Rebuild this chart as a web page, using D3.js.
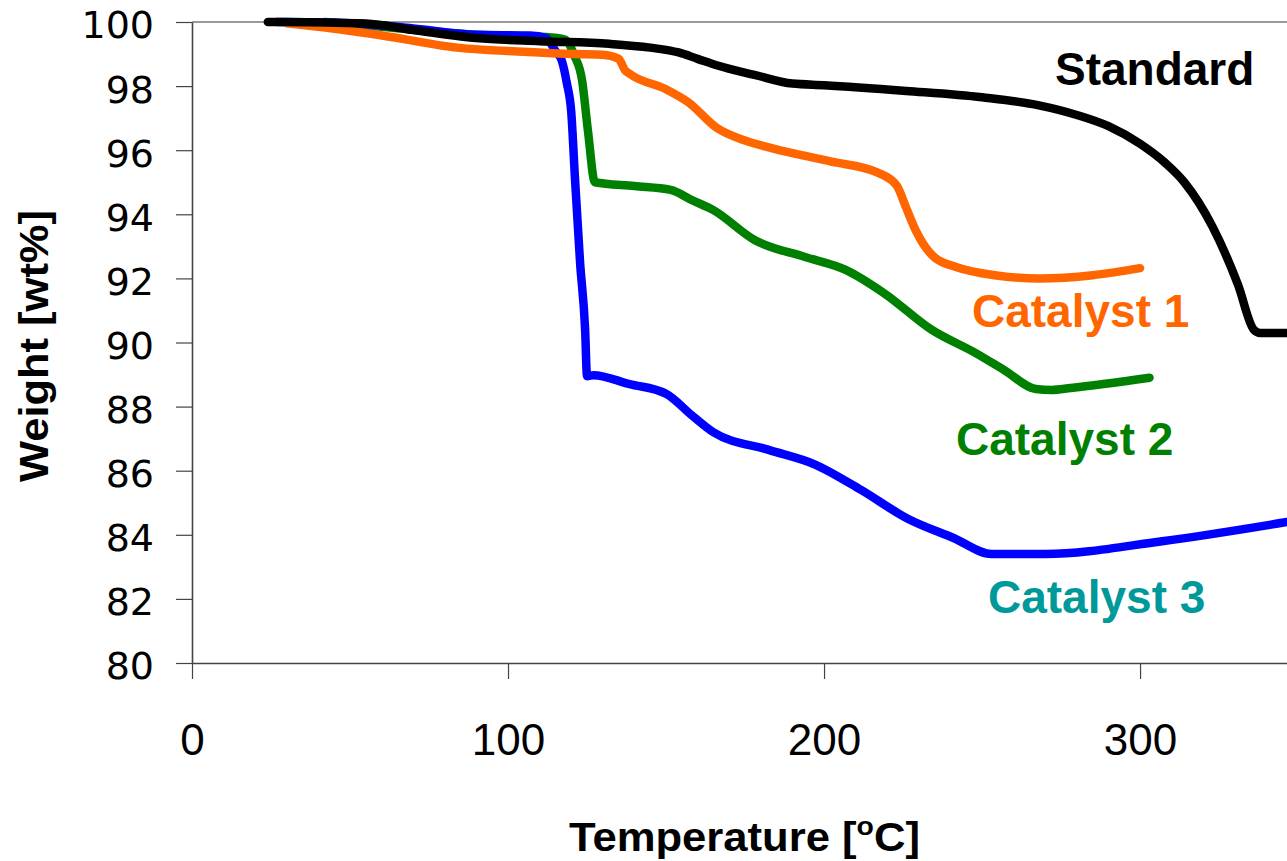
<!DOCTYPE html>
<html>
<head>
<meta charset="utf-8">
<script src="https://cdn.jsdelivr.net/npm/d3@7"></script>
<style>
  html, body { margin: 0; padding: 0; background: #fff; }
  svg { display: block; }
</style>
</head>
<body>
<svg id="chart" width="1287" height="861"></svg>
<script>
// ---- Data (Temperature °C, Weight wt%) ----
const standardT = [24, 30, 55, 70, 90, 110, 132, 145, 154, 160, 166, 178, 190, 200, 226, 250, 268, 280, 290, 300, 308, 314, 323, 331, 336, 338, 346.5];
const standardW = [100, 100, 99.95, 99.75, 99.5, 99.4, 99.32, 99.2, 99.05, 98.85, 98.65, 98.35, 98.08, 98.03, 97.85, 97.65, 97.4, 97.1, 96.75, 96.2, 95.6, 95.0, 93.6, 91.8, 90.4, 90.3, 90.3];

const cat1T = [30, 40, 62, 84, 105, 121, 130, 135, 137, 139, 150, 157, 166, 175, 184, 202, 217, 223, 226, 229, 235, 242, 254, 268, 285, 300];
const cat1W = [99.96, 99.85, 99.55, 99.2, 99.07, 99.0, 98.98, 98.85, 98.5, 98.35, 97.9, 97.5, 96.7, 96.3, 96.05, 95.65, 95.3, 94.9, 94.2, 93.5, 92.65, 92.35, 92.1, 92.0, 92.1, 92.32];

const cat2T = [42, 60, 90, 112, 118, 121, 123.4, 125.3, 127.5, 140, 151.5, 158, 165, 178, 194, 207, 219, 234, 248, 257, 267, 272, 278, 303];
const cat2W = [100, 99.85, 99.6, 99.53, 99.45, 98.95, 98.2, 96.6, 95.0, 94.88, 94.76, 94.45, 94.13, 93.2, 92.67, 92.26, 91.54, 90.4, 89.67, 89.14, 88.55, 88.52, 88.58, 88.9];

const cat3T = [27, 46, 70, 90, 107, 112, 115, 117, 118.6, 120, 121.2, 122.8, 124.4, 125, 127, 138.5, 150, 158.5, 165, 182.5, 197, 211.7, 226.5, 241, 253, 270, 307, 346.5];
const cat3W = [100, 99.98, 99.8, 99.6, 99.58, 99.5, 99.1, 98.8, 98.1, 97.2, 95.1, 92.5, 90.4, 88.95, 88.98, 88.7, 88.4, 87.7, 87.2, 86.65, 86.2, 85.4, 84.5, 83.9, 83.4, 83.4, 83.8, 84.4];

const seriesNames = ["Catalyst 2", "Catalyst 3", "Catalyst 1", "Standard"];
const seriesColors = ["#008000", "#0000FF", "#FF6600", "#000000"];
const labelColors = ["#008000", "#009999", "#FF6600", "#000000"];

const xTicks = [0, 100, 200, 300];
const yTicks = [80, 82, 84, 86, 88, 90, 92, 94, 96, 98, 100];
const xDomain = [0, 346.5];
const yDomain = [80, 100];

// ---- Layout ----
const svg = d3.select("#chart");
const plotL = 192, plotR = 1287, plotT = 22, plotB = 663;

const x = d3.scaleLinear().domain(xDomain).range([plotL, plotR]);
const y = d3.scaleLinear().domain(yDomain).range([plotB, plotT]);

// top border
svg.append("line")
  .attr("x1", plotL).attr("x2", plotR).attr("y1", plotT).attr("y2", plotT)
  .attr("stroke", "#9a9a9a").attr("stroke-width", 2);

// axes
const xAxis = svg.append("g").attr("transform", `translate(0,${plotB})`)
  .call(d3.axisBottom(x).tickValues(xTicks).tickSize(16).tickSizeOuter(0).tickPadding(0));
xAxis.select(".domain").attr("stroke", "#444").attr("stroke-width", 1.6);
xAxis.selectAll(".tick line").attr("stroke", "#444").attr("stroke-width", 1.2);
xAxis.selectAll(".tick text")
  .attr("y", 92).attr("dy", 0)
  .attr("font-family", "Liberation Sans, Arial, sans-serif")
  .attr("font-size", 44).attr("fill", "#000");

const yAxis = svg.append("g").attr("transform", `translate(${plotL},0)`)
  .call(d3.axisLeft(y).tickValues(yTicks).tickSize(16).tickSizeOuter(0).tickPadding(0));
yAxis.select(".domain").attr("stroke", "#444").attr("stroke-width", 1.6);
yAxis.selectAll(".tick line").attr("stroke", "#444").attr("stroke-width", 1.2);
yAxis.selectAll(".tick text")
  .attr("x", -38).attr("dy", "0.42em")
  .attr("font-family", "DejaVu Sans, Verdana, sans-serif")
  .attr("font-size", 38).attr("fill", "#000");

// clip
svg.append("clipPath").attr("id", "plotclip")
  .append("rect").attr("x", plotL).attr("y", 0).attr("width", plotR - plotL).attr("height", plotB + 10);

const line = d3.line().x(d => x(d[0])).y(d => y(d[1])).curve(d3.curveMonotoneX);

const seriesT = [cat2T, cat3T, cat1T, standardT];
const seriesW = [cat2W, cat3W, cat1W, standardW];

const g = svg.append("g").attr("clip-path", "url(#plotclip)");
seriesT.forEach((ts, i) => {
  const pts = ts.map((t, j) => [t, seriesW[i][j]]);
  g.append("path")
    .attr("d", line(pts))
    .attr("fill", "none")
    .attr("stroke", seriesColors[i])
    .attr("stroke-width", 8.5)
    .attr("stroke-linejoin", "round")
    .attr("stroke-linecap", "round");
});

// series labels
const labels = [
  { name: "Standard", x: 1055, y: 85, size: 46, color: labelColors[3] },
  { name: "Catalyst 1", x: 972, y: 327, size: 46, color: labelColors[2] },
  { name: "Catalyst 2", x: 956, y: 455, size: 46, color: labelColors[0] },
  { name: "Catalyst 3", x: 988, y: 613, size: 46, color: labelColors[1] }
];
labels.forEach(l => {
  svg.append("text")
    .attr("x", l.x).attr("y", l.y)
    .attr("font-family", "Liberation Sans, Arial, sans-serif")
    .attr("font-weight", "bold")
    .attr("font-size", l.size)
    .attr("fill", l.color)
    .text(l.name);
});

// axis titles
const xt = svg.append("text")
  .attr("x", 569).attr("y", 851)
  .attr("font-family", "Liberation Sans, Arial, sans-serif")
  .attr("font-weight", "bold").attr("font-size", 40)
  .attr("textLength", 351).attr("lengthAdjust", "spacingAndGlyphs");
xt.append("tspan").text("Temperature [");
xt.append("tspan").attr("font-size", 26).attr("dy", -16).text("o");
xt.append("tspan").attr("dy", 16).text("C]");

svg.append("text")
  .attr("transform", "translate(48,346) rotate(-90)")
  .attr("text-anchor", "middle")
  .attr("font-family", "Liberation Sans, Arial, sans-serif")
  .attr("font-weight", "bold").attr("font-size", 40)
  .attr("textLength", 272).attr("lengthAdjust", "spacingAndGlyphs")
  .text("Weight [wt%]");
</script>
</body>
</html>
